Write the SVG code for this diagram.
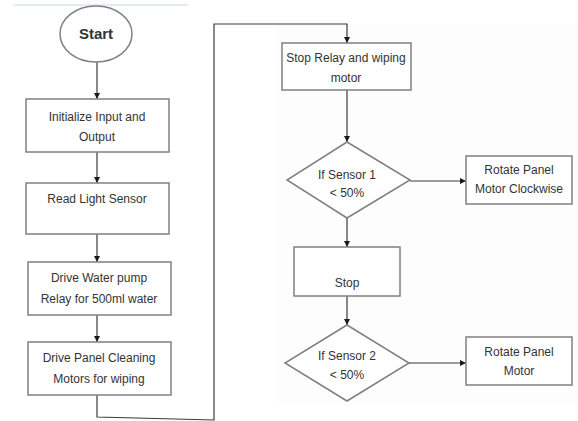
<svg xmlns="http://www.w3.org/2000/svg" width="578" height="421" viewBox="0 0 578 421">
<style>
.shape{fill:#fff;stroke:#808080;stroke-width:1.5}
.conn{fill:none;stroke:#3a3a3a;stroke-width:1.2}
.lbl{font-family:"Liberation Sans",Arial,sans-serif;font-size:12px;fill:#333;text-anchor:middle}
.title{font-family:"Liberation Sans",Arial,sans-serif;font-size:15px;font-weight:bold;fill:#333;text-anchor:middle}
</style>
<defs>
<marker id="ah" viewBox="0 0 10 10" refX="10" refY="5" markerWidth="6" markerHeight="6" markerUnits="userSpaceOnUse" orient="auto">
<path d="M0,0 L10,5 L0,10 z" fill="#1a1a1a"/>
</marker>
</defs>
<rect width="578" height="421" fill="#fff"/>
<rect x="276" y="24" width="301" height="378" fill="#fdfdfd"/>
<line x1="13" y1="5" x2="188" y2="5" stroke="#c8d8ec" stroke-width="1"/>
<g id="connectors">
<line class="conn" x1="97" y1="62" x2="97" y2="99" marker-end="url(#ah)"/>
<line class="conn" x1="97" y1="152" x2="97" y2="183" marker-end="url(#ah)"/>
<line class="conn" x1="97" y1="234" x2="97" y2="262" marker-end="url(#ah)"/>
<line class="conn" x1="97" y1="315" x2="97" y2="342" marker-end="url(#ah)"/>
<polyline class="conn" points="97,395 97,417 214,420 214,24 347,24 347,43" marker-end="url(#ah)"/>
<line class="conn" x1="347" y1="90" x2="347" y2="142" marker-end="url(#ah)"/>
<line class="conn" x1="410" y1="181" x2="466" y2="181" marker-end="url(#ah)"/>
<line class="conn" x1="347" y1="218" x2="347" y2="247" marker-end="url(#ah)"/>
<line class="conn" x1="347" y1="296" x2="347" y2="325" marker-end="url(#ah)"/>
<line class="conn" x1="409" y1="363" x2="466" y2="363" marker-end="url(#ah)"/>
</g>
<g id="start">
<ellipse class="shape" cx="96" cy="34" rx="36" ry="28"/>
<text class="title" x="96" y="39">Start</text>
</g>
<g id="init">
<rect class="shape" x="26" y="99" width="143" height="53"/>
<text class="lbl" x="97" y="121">Initialize Input and</text>
<text class="lbl" x="97" y="141">Output</text>
</g>
<g id="read">
<rect class="shape" x="26" y="183" width="143" height="51"/>
<text class="lbl" x="97" y="203">Read Light Sensor</text>
</g>
<g id="pump">
<rect class="shape" x="28" y="262" width="143" height="53"/>
<text class="lbl" x="99" y="282">Drive Water pump</text>
<text class="lbl" x="99" y="303">Relay for 500ml water</text>
</g>
<g id="clean">
<rect class="shape" x="28" y="342" width="143" height="53"/>
<text class="lbl" x="99" y="362">Drive Panel Cleaning</text>
<text class="lbl" x="99" y="383">Motors for wiping</text>
</g>
<g id="stoprelay">
<rect class="shape" x="282" y="43" width="129" height="47"/>
<text class="lbl" x="346" y="62">Stop Relay and wiping</text>
<text class="lbl" x="346" y="82">motor</text>
</g>
<g id="sensor1">
<polygon class="shape" points="347,142 410,180 347,218 287,180"/>
<text class="lbl" x="347" y="179">If Sensor 1</text>
<text class="lbl" x="347" y="197">&lt; 50%</text>
</g>
<g id="rotate1">
<rect class="shape" x="466" y="156" width="106" height="48"/>
<text class="lbl" x="519" y="174">Rotate Panel</text>
<text class="lbl" x="519" y="193">Motor Clockwise</text>
</g>
<g id="stop">
<rect class="shape" x="294" y="247" width="106" height="49"/>
<text class="lbl" x="347" y="287">Stop</text>
</g>
<g id="sensor2">
<polygon class="shape" points="347,325 409,363 347,401 285,363"/>
<text class="lbl" x="347" y="360">If Sensor 2</text>
<text class="lbl" x="347" y="379">&lt; 50%</text>
</g>
<g id="rotate2">
<rect class="shape" x="466" y="337" width="106" height="48"/>
<text class="lbl" x="519" y="356">Rotate Panel</text>
<text class="lbl" x="519" y="375">Motor</text>
</g>
</svg>
